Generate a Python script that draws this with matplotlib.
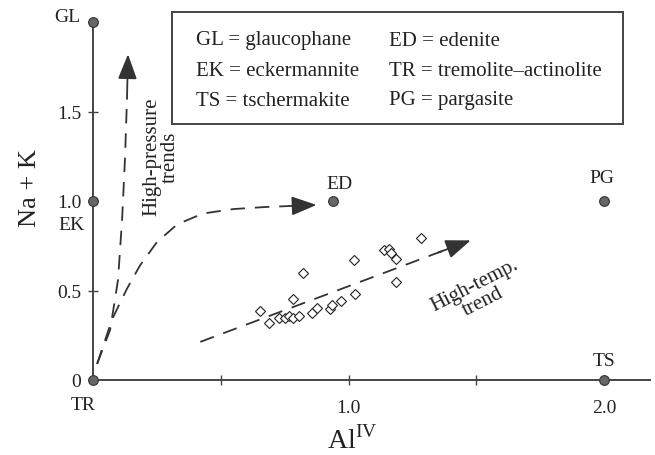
import matplotlib.pyplot as plt
from matplotlib.patches import Rectangle

plt.rcParams['font.family'] = ['Liberation Serif', 'DejaVu Serif']
plt.rcParams['mathtext.fontset'] = 'custom'
plt.rcParams['mathtext.rm'] = 'Liberation Serif'

# end-member compositions (AlIV, Na+K)
end_names = ['TR', 'EK', 'GL', 'ED', 'PG', 'TS']
end_x = [0.0, 0.0, 0.0, 0.94, 2.0, 2.0]
end_y = [0.0, 1.0, 2.0, 1.0, 1.0, 0.0]

# analysed amphiboles
al_iv = [0.655, 0.69, 0.729, 0.753, 0.769, 0.784, 0.808, 0.784, 0.82, 0.859, 0.875,
         0.929, 0.937, 0.969, 1.027, 1.02, 1.137, 1.157, 1.165, 1.184, 1.184, 1.282]
na_k = [0.384, 0.316, 0.349, 0.349, 0.36, 0.349, 0.36, 0.455, 0.60, 0.376, 0.40,
        0.397, 0.42, 0.441, 0.48, 0.67, 0.725, 0.73, 0.71, 0.675, 0.546, 0.795]

# trend lines
hp_x = [0.016, 0.067, 0.098, 0.114, 0.125, 0.133, 0.137]
hp_y = [0.09, 0.28, 0.56, 0.90, 1.23, 1.57, 1.82]
ed_x = [0.016, 0.075, 0.133, 0.184, 0.25, 0.33, 0.43, 0.55, 0.67, 0.77, 0.875]
ed_y = [0.09, 0.34, 0.51, 0.64, 0.77, 0.87, 0.93, 0.955, 0.966, 0.972, 0.978]
ht_x = [0.42, 1.478]
ht_y = [0.213, 0.78]

legend_rows = [('GL = glaucophane', 'ED = edenite'),
               ('EK = eckermannite', 'TR = tremolite\u2013actinolite'),
               ('TS = tschermakite', 'PG = pargasite')]

ink = '#222222'
fig = plt.figure(figsize=(6.55, 4.56), dpi=100)
ax = fig.add_axes([93 / 655, 75 / 456, 557 / 655, 358 / 456])
ax.set_xlim(0, 2.18)
ax.set_ylim(0, 2.0)

for s in ['top', 'right']:
    ax.spines[s].set_visible(False)
for s in ['left', 'bottom']:
    ax.spines[s].set_color('#444444')
    ax.spines[s].set_linewidth(1.4)

ax.set_xticks([0.5, 1.0, 1.5, 2.0], ['', '1.0', '', '2.0'])
ax.set_yticks([0, 0.5, 1.0, 1.5], ['0', '0.5', '1.0', '1.5'])
ax.tick_params(axis='x', direction='inout', length=7, width=1, pad=10,
               labelsize=14, colors='#444444', labelcolor=ink)
ax.tick_params(axis='y', direction='inout', length=7, width=1, pad=5,
               labelsize=14, colors='#444444', labelcolor=ink)

# dashed trends with arrow heads
dash = (0, (8, 5.5))
ax.plot(hp_x[:-1], hp_y[:-1], color='#333333', lw=1.3, linestyle=dash)
ax.plot(ed_x[:-1], ed_y[:-1], color='#333333', lw=1.3, linestyle=dash)
ax.plot(ht_x, ht_y, color='#333333', lw=1.3, linestyle=dash)
for xs, ys in [(hp_x, hp_y), (ed_x, ed_y), (ht_x, ht_y)]:
    x0 = xs[-1] - (xs[-1] - xs[-2]) * 0.12 if len(xs) == 2 else xs[-2]
    y0 = ys[-1] - (ys[-1] - ys[-2]) * 0.12 if len(ys) == 2 else ys[-2]
    ax.annotate('', xy=(xs[-1], ys[-1]), xytext=(x0, y0),
                arrowprops=dict(arrowstyle='-|>,head_length=1.1,head_width=0.42',
                                mutation_scale=14, color='#333333', lw=1.3,
                                shrinkA=0, shrinkB=0))

ax.plot(al_iv, na_k, linestyle='none', marker='D', ms=5.5, mfc='white',
        mec=ink, mew=0.8, clip_on=False)
ax.plot(end_x, end_y, linestyle='none', marker='o', ms=7, mfc='#666666',
        mec='#333333', mew=0.8, clip_on=False, zorder=5)

# end-member labels
ax.text(-0.04, -0.135, 'TR', fontsize=14, color=ink, ha='center', va='center')
ax.text(-0.085, 0.87, 'EK', fontsize=14, color=ink, ha='center', va='center')
ax.text(-0.1, 2.03, 'GL', fontsize=14, color=ink, ha='center', va='center')
ax.text(0.965, 1.1, 'ED', fontsize=14, color=ink, ha='center', va='center')
ax.text(1.99, 1.13, 'PG', fontsize=14, color=ink, ha='center', va='center')
ax.text(2.0, 0.11, 'TS', fontsize=14, color=ink, ha='center', va='center')

ax.text(0.265, 1.25, 'High-pressure\ntrends', fontsize=15, color=ink, rotation=90,
        ha='center', va='center', linespacing=0.95)
ax.text(1.51, 0.485, 'High-temp.\ntrend', fontsize=15, color=ink, rotation=27,
        ha='center', va='center', linespacing=0.95, rotation_mode='anchor')

ax.text(-0.133, 0.54, 'Na + K', fontsize=19, color=ink, rotation=90,
        ha='left', va='center', transform=ax.transAxes)
ax.text(0.465, -0.125, r'Al$^{\mathrm{IV}}$', fontsize=20, color=ink,
        ha='center', va='top', transform=ax.transAxes)

# legend box
fig.patches.append(Rectangle((172 / 655, 1 - 125 / 456), 451 / 655, 112 / 456,
                             transform=fig.transFigure, fill=False,
                             edgecolor='#444444', lw=1.4))
for i, (left, right) in enumerate(legend_rows):
    yy = 1 - (41 + 30 * i) / 456
    fig.text(196 / 655, yy, left, fontsize=15, color=ink, va='center')
    fig.text(389 / 655, yy, right, fontsize=15, color=ink, va='center')

fig.savefig('out.png', dpi=100)
